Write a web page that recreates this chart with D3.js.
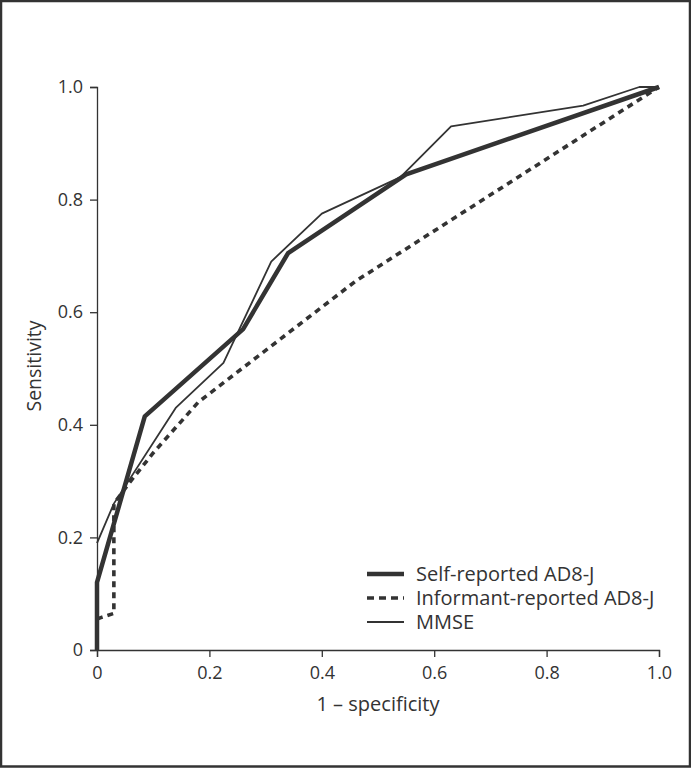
<!DOCTYPE html>
<html><head><meta charset="utf-8">
<script src="https://cdn.jsdelivr.net/npm/d3@7"></script>
<style>
html,body{margin:0;padding:0;background:#fff;}
svg{display:block;font-family:"Open Sans",sans-serif;}
</style></head>
<body><svg id="c" width="691" height="768"></svg>
<script>
// Data (x = 1 - specificity, y = sensitivity)
const selfX = [0, 0, 0.085, 0.26, 0.34, 0.55, 1];
const selfY = [0, 0.12, 0.415, 0.57, 0.705, 0.845, 1];
const informantX = [0, 0.008, 0.03, 0.03, 0.06, 0.10, 0.18, 0.46, 1];
const informantY = [0.055, 0.058, 0.065, 0.26, 0.30, 0.35, 0.44, 0.655, 1];
const mmseX = [0, 0.03, 0.14, 0.225, 0.31, 0.40, 0.54, 0.63, 0.865, 0.965, 1];
const mmseY = [0.19, 0.26, 0.43, 0.51, 0.69, 0.775, 0.84, 0.93, 0.967, 1.0, 1];
const xTicks = [0, 0.2, 0.4, 0.6, 0.8, 1.0];
const yTicks = [0, 0.2, 0.4, 0.6, 0.8, 1.0];
const legendLabels = ["Self-reported AD8-J", "Informant-reported AD8-J", "MMSE"];

const svg = d3.select("#c");
const W = 691, H = 768;
const col = "#333";
svg.append("rect").attr("x",1).attr("y",1).attr("width",W-2).attr("height",H-2.5)
  .attr("fill","#fff").attr("stroke",col).attr("stroke-width",2.5);

const x = d3.scaleLinear().domain([0,1]).range([97,659]);
const y = d3.scaleLinear().domain([0,1]).range([650,87]);
const fmt = d => d === 0 ? "0" : d3.format(".1f")(d);

const gx = svg.append("g").attr("transform","translate(0,650)")
  .call(d3.axisBottom(x).tickValues(xTicks).tickFormat(fmt).tickSize(7).tickPadding(9));
const gy = svg.append("g").attr("transform","translate(97,0)")
  .call(d3.axisLeft(y).tickValues(yTicks).tickFormat(fmt).tickSize(7).tickPadding(7));
[gx,gy].forEach(g=>{
  g.select(".domain").attr("stroke",col).attr("stroke-width",1.3);
  g.selectAll(".tick line").attr("stroke",col).attr("stroke-width",1.3);
  g.selectAll(".tick text").attr("fill",col).style("font-size","18px").style("font-family","'Open Sans',sans-serif");
});

svg.append("text").attr("x",378).attr("y",711).attr("text-anchor","middle")
  .attr("fill",col).style("font-size","20px").text("1 \u2013 specificity");
svg.append("text").attr("transform","translate(41,366) rotate(-90)").attr("text-anchor","middle")
  .attr("fill",col).style("font-size","19.5px").text("Sensitivity");

const line = d3.line().x(d=>x(d[0])).y(d=>y(d[1]));
const series = [
  {xs: selfX, ys: selfY, w: 4.5, dash: null},
  {xs: informantX, ys: informantY, w: 3.6, dash: "6,5"},
  {xs: mmseX, ys: mmseY, w: 1.8, dash: null}
];
series.forEach(s=>{
  svg.append("path").datum(s.xs.map((v,i)=>[v,s.ys[i]]))
    .attr("d",line).attr("fill","none").attr("stroke",col)
    .attr("stroke-width",s.w).attr("stroke-dasharray",s.dash)
    .attr("stroke-linejoin","round");
});

const lg = svg.append("g");
const rows = [581, 605, 629];
series.forEach((s,i)=>{
  lg.append("line").attr("x1",367).attr("x2",404).attr("y1",rows[i]-7).attr("y2",rows[i]-7)
    .attr("stroke",col).attr("stroke-width",s.w).attr("stroke-dasharray",s.dash ? "7,5" : null);
  lg.append("text").attr("x",416).attr("y",rows[i])
    .attr("fill",col).style("font-size","20px").text(legendLabels[i]);
});
</script></body></html>
